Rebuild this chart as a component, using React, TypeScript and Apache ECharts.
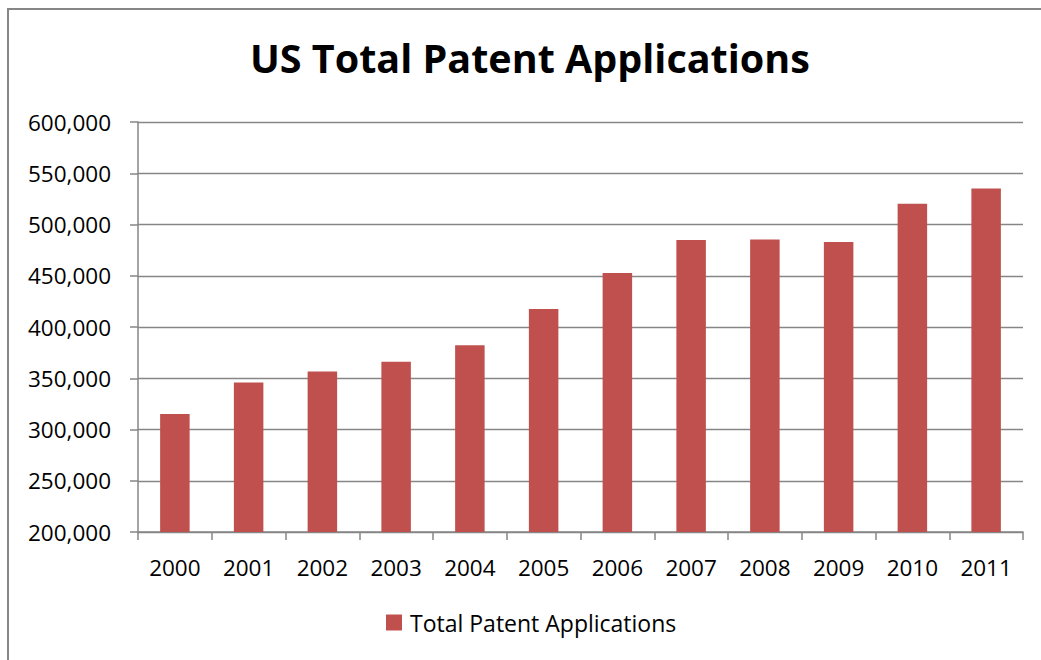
import React, { useEffect, useRef } from "react";
import * as echarts from "echarts";

const years = ["2000", "2001", "2002", "2003", "2004", "2005", "2006", "2007", "2008", "2009", "2010", "2011"];
const applications = [315015, 345732, 356493, 366043, 382139, 417508, 452633, 484955, 485312, 482871, 520277, 535188];
const seriesName = "Total Patent Applications";
const titleText = "US Total Patent Applications";

export default function App() {
  const ref = useRef<HTMLDivElement>(null);
  useEffect(() => {
    document.body.style.margin = "0";
    const chart = echarts.init(ref.current!, null, { renderer: "svg" });
    const font = "'Open Sans', sans-serif";
    chart.setOption({
      animation: false,
      backgroundColor: "#ffffff",
      title: {
        text: titleText,
        left: 245,
        top: 33,
        textStyle: { fontFamily: font, fontWeight: "bold", fontSize: 39.5, color: "#000" },
      },
      graphic: [
        {
          type: "rect",
          shape: { x: 8, y: 9, width: 1200, height: 800 },
          style: { fill: "none", stroke: "#868686", lineWidth: 2 },
          silent: true,
        },
      ],
      grid: { left: 138, right: 18, top: 122, bottom: 128, containLabel: false },
      legend: {
        data: [seriesName],
        top: 606,
        left: 381,
        icon: "rect",
        itemWidth: 16,
        itemHeight: 16,
        itemGap: 10,
        textStyle: { fontFamily: font, fontSize: 23, color: "#000", padding: [0, 0, 0, 3] },
      },
      xAxis: {
        type: "category",
        data: years,
        boundaryGap: true,
        axisLine: { show: true, lineStyle: { color: "#868686", width: 1.5 } },
        axisTick: { show: true, length: 8, alignWithLabel: false, lineStyle: { color: "#868686", width: 1.5 } },
        axisLabel: { fontFamily: font, fontSize: 22.5, color: "#000", margin: 24 },
      },
      yAxis: {
        type: "value",
        min: 200000,
        max: 600000,
        interval: 50000,
        axisLine: { show: true, lineStyle: { color: "#868686", width: 1.5 } },
        axisTick: { show: true, inside: false, length: 8, lineStyle: { color: "#868686", width: 1.5 } },
        splitLine: { show: true, lineStyle: { color: "#868686", width: 1.3 } },
        axisLabel: {
          fontFamily: font,
          fontSize: 22.5,
          color: "#000",
          margin: 27,
          formatter: (v: number) => v.toLocaleString("en-US"),
        },
      },
      series: [
        {
          name: seriesName,
          type: "bar",
          data: applications,
          barWidth: "40%",
          itemStyle: { color: "#C0504D" },
        },
      ],
    });
    return () => chart.dispose();
  }, []);
  return <div ref={ref} style={{ width: 1041, height: 660 }} />;
}
